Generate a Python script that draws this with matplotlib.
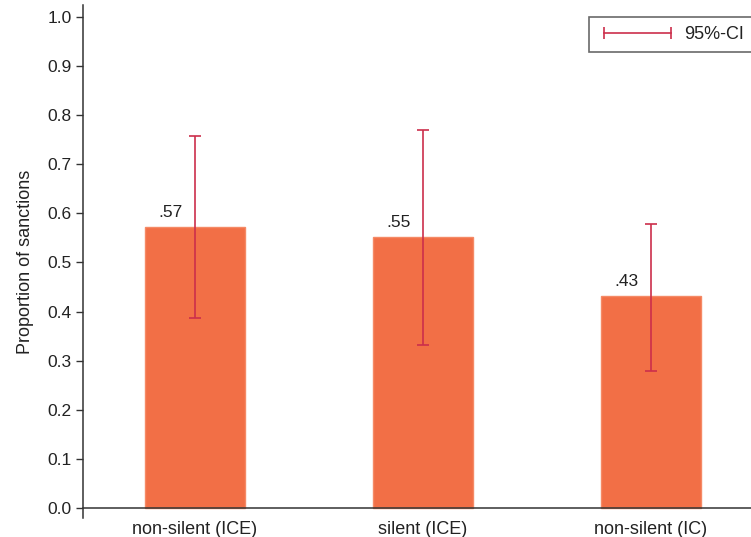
import matplotlib
matplotlib.use("Agg")
import matplotlib.pyplot as plt
from matplotlib.lines import Line2D
import numpy as np

categories = ["non-silent (ICE)", "silent (ICE)", "non-silent (IC)"]
proportions = [0.573, 0.551, 0.432]
ci_low = [0.388, 0.332, 0.280]
ci_high = [0.757, 0.769, 0.578]
value_labels = [".57", ".55", ".43"]
yticks = [0.0, 0.1, 0.2, 0.3, 0.4, 0.5, 0.6, 0.7, 0.8, 0.9, 1.0]

plt.rcParams['font.family'] = ['Liberation Sans', 'DejaVu Sans']

BAR = '#F26F46'
BAR_EDGE = '#F58A66'
ERR = '#CC2F4C'
TXT = '#222222'
SPINE = '#333333'

fig = plt.figure(figsize=(7.51, 5.37), dpi=100)
ax = fig.add_axes([83/751, 1-518/537, 1-83/751, 513/537])

x = np.arange(len(categories))
p = np.array(proportions)
lo = np.array(ci_low)
hi = np.array(ci_high)

ax.bar(x, p, width=100/228, color=BAR, edgecolor=BAR_EDGE, linewidth=1.0, zorder=2)
ax.errorbar(x, p, yerr=[p - lo, hi - p], fmt='none', ecolor=ERR,
            elinewidth=1.2, capsize=4, capthick=1.2, zorder=3)

for xi, v, lab in zip(x, p, value_labels):
    ax.annotate(lab, (xi - 0.105, v), xytext=(0, 5), textcoords='offset points',
                ha='center', va='bottom', fontsize=12.5, color=TXT)

ax.set_xlim(-0.49, 2.44)
ax.set_ylim(-0.02, 1.024)
ax.set_yticks(yticks)
ax.set_yticklabels([f"{t:.1f}" for t in yticks])
ax.set_xticks(x)
ax.set_xticklabels(categories)

ax.spines['top'].set_visible(False)
ax.spines['right'].set_visible(False)
ax.spines['bottom'].set_position(('data', 0))
for s in ('left', 'bottom'):
    ax.spines[s].set_color(SPINE)
    ax.spines[s].set_linewidth(1.1)

ax.tick_params(axis='y', direction='out', length=5, width=1.0, color=SPINE,
               labelsize=12.5, labelcolor=TXT, pad=3)
ax.tick_params(axis='x', length=0, labelsize=13, labelcolor=TXT, pad=9)

ax.set_ylabel("Proportion of sanctions", fontsize=13, color=TXT, labelpad=10)

handle = Line2D([], [], color=ERR, linewidth=1.2, marker='|', markersize=8,
                markeredgewidth=1.2)
leg = ax.legend([handle], ["95%-CI"], loc='upper right',
                bbox_to_anchor=(1.003, 0.977), numpoints=2, handlelength=4.3,
                fontsize=13, frameon=True, fancybox=False, borderpad=0.5,
                handletextpad=0.45, borderaxespad=0)
leg.get_frame().set_edgecolor('#444444')
leg.get_frame().set_linewidth(1.2)
for t in leg.get_texts():
    t.set_color(TXT)

fig.savefig("out.png", dpi=100)
